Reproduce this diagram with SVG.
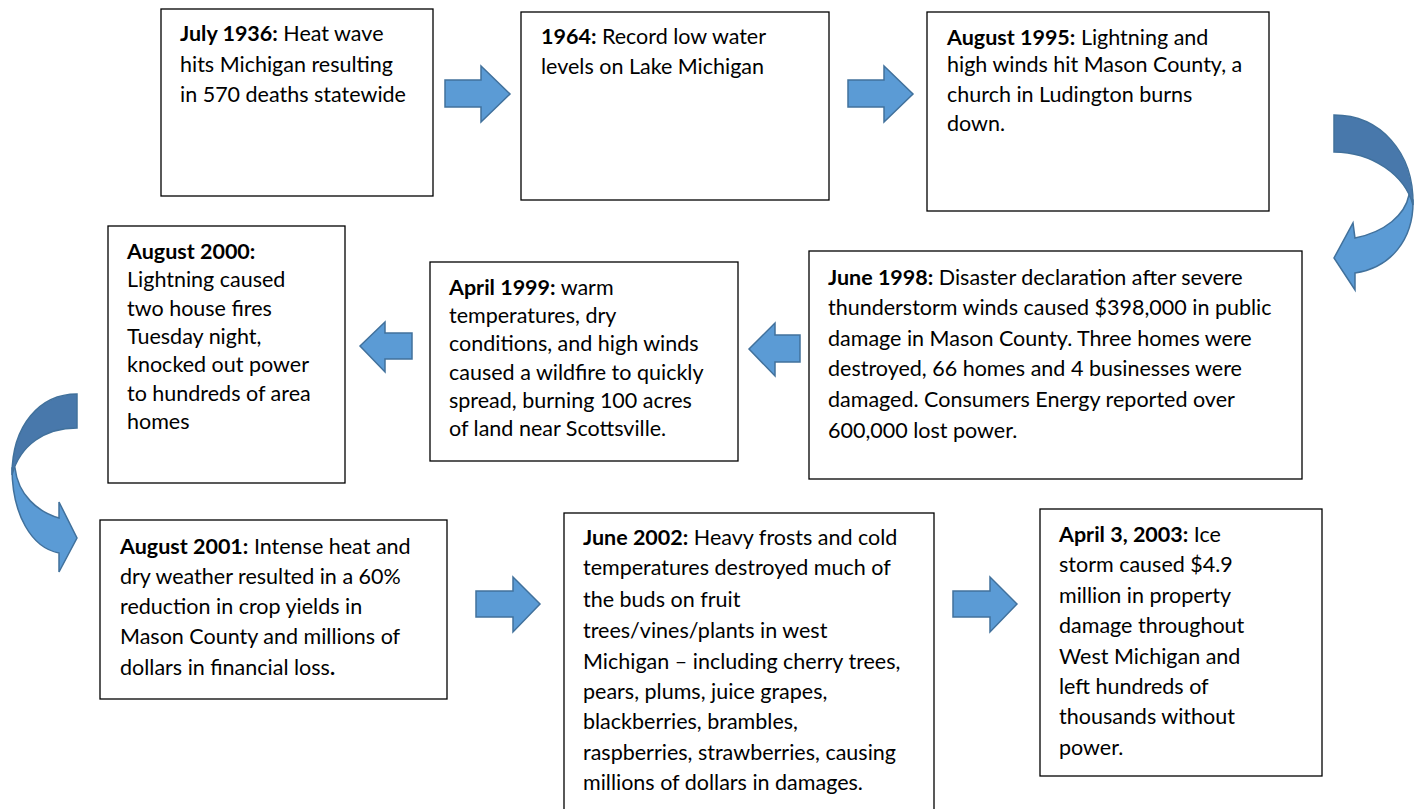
<svg xmlns="http://www.w3.org/2000/svg" width="1424" height="809" viewBox="0 0 1424 809">
<style>
.box{fill:#fff;stroke:#000;stroke-width:1.3}
text{font-family:Lato,"Liberation Sans",sans-serif;font-size:21.5px;fill:#000}
.b{font-weight:bold}
.ba{fill:#5B9BD5;stroke:#41719C;stroke-width:1.5;stroke-linejoin:miter}
.dk{fill:#4878AB;stroke:#41719C;stroke-width:1.5}
</style>
<rect width="1424" height="809" fill="#fff"/>
<g id="connectors">
<path class="ba" d="M445,80 L481,80 L481,66 L510,94 L481,122 L481,107 L445,107 Z"/>
<path class="ba" d="M848,80 L884,80 L884,66 L913,94 L884,122 L884,107 L848,107 Z"/>
<path class="ba" d="M800,335 L775,335 L775,323 L749,349 L775,376 L775,362 L800,362 Z"/>
<path class="ba" d="M412,333 L385,333 L385,322 L360,346 L385,372 L385,359 L412,359 Z"/>
<path class="ba" d="M476,591 L513,591 L513,577 L540,604 L513,632 L513,617 L476,617 Z"/>
<path class="ba" d="M953,591 L990,591 L990,577 L1017,604 L990,632 L990,617 L953,617 Z"/>
<path class="ba" d="M1413,200 C1414,240 1390,268 1355,273 L1355,290 L1334,258 L1353,223 L1355,238 C1385,232 1405,215 1409,195 Z"/>
<path class="dk" d="M1334,115 C1380,115 1414,152 1413,205 C1405,175 1372,152 1334,152 Z"/>
<path class="ba" d="M12,468 C12,515 32,548 59,553 L59,572 L77,538 L59,502 L59,518 C38,512 18,495 15,468 Z"/>
<path class="dk" d="M77,394 C40,394 12,425 12,475 C20,445 45,428 77,428 Z"/>
</g>
<g id="n1"><rect class="box" x="161" y="9" width="272" height="187"/>
<text x="180" y="41"><tspan class="b">July 1936:</tspan> Heat wave</text>
<text x="180" y="72">hits Michigan resulting</text>
<text x="180" y="102">in 570 deaths statewide</text></g>
<g id="n2"><rect class="box" x="521" y="12" width="308" height="188"/>
<text x="541" y="44"><tspan class="b">1964:</tspan> Record low water</text>
<text x="541" y="74">levels on Lake Michigan</text></g>
<g id="n3"><rect class="box" x="927" y="12" width="342" height="199"/>
<text x="947" y="45"><tspan class="b">August 1995:</tspan> Lightning and</text>
<text x="947" y="72">high winds hit Mason County, a</text>
<text x="947" y="102">church in Ludington burns</text>
<text x="947" y="131">down.</text></g>
<g id="n4"><rect class="box" x="809" y="251" width="493" height="228"/>
<text x="828" y="285"><tspan class="b">June 1998:</tspan> Disaster declaration after severe</text>
<text x="828" y="315">thunderstorm winds caused $398,000 in public</text>
<text x="828" y="346">damage in Mason County. Three homes were</text>
<text x="828" y="376">destroyed, 66 homes and 4 businesses were</text>
<text x="828" y="407">damaged. Consumers Energy reported over</text>
<text x="828" y="438">600,000 lost power.</text></g>
<g id="n5"><rect class="box" x="430" y="262" width="308" height="199"/>
<text x="449" y="295"><tspan class="b">April 1999:</tspan> warm</text>
<text x="449" y="323">temperatures, dry</text>
<text x="449" y="351">conditions, and high winds</text>
<text x="449" y="380">caused a wildfire to quickly</text>
<text x="449" y="408">spread, burning 100 acres</text>
<text x="449" y="436">of land near Scottsville.</text></g>
<g id="n6"><rect class="box" x="108" y="226" width="237" height="257"/>
<text x="127" y="259" class="b">August 2000:</text>
<text x="127" y="287">Lightning caused</text>
<text x="127" y="316">two house fires</text>
<text x="127" y="344">Tuesday night,</text>
<text x="127" y="372">knocked out power</text>
<text x="127" y="401">to hundreds of area</text>
<text x="127" y="429">homes</text></g>
<g id="n7"><rect class="box" x="100" y="520" width="347" height="179"/>
<text x="120" y="554"><tspan class="b">August 2001:</tspan> Intense heat and</text>
<text x="120" y="584">dry weather resulted in a 60%</text>
<text x="120" y="614">reduction in crop yields in</text>
<text x="120" y="644">Mason County and millions of</text>
<text x="120" y="675">dollars in financial loss<tspan class="b">.</tspan></text></g>
<g id="n8"><rect class="box" x="564" y="513" width="370" height="300"/>
<text x="583" y="545"><tspan class="b">June 2002:</tspan> Heavy frosts and cold</text>
<text x="583" y="575">temperatures destroyed much of</text>
<text x="583" y="607">the buds on fruit</text>
<text x="583" y="638">trees/vines/plants in west</text>
<text x="583" y="669">Michigan – including cherry trees,</text>
<text x="583" y="699">pears, plums, juice grapes,</text>
<text x="583" y="729">blackberries, brambles,</text>
<text x="583" y="760">raspberries, strawberries, causing</text>
<text x="583" y="790">millions of dollars in damages.</text></g>
<g id="n9"><rect class="box" x="1040" y="509" width="282" height="267"/>
<text x="1059" y="542"><tspan class="b">April 3, 2003:</tspan> Ice</text>
<text x="1059" y="572">storm caused $4.9</text>
<text x="1059" y="603">million in property</text>
<text x="1059" y="633">damage throughout</text>
<text x="1059" y="664">West Michigan and</text>
<text x="1059" y="694">left hundreds of</text>
<text x="1059" y="724">thousands without</text>
<text x="1059" y="755">power.</text></g>
</svg>
